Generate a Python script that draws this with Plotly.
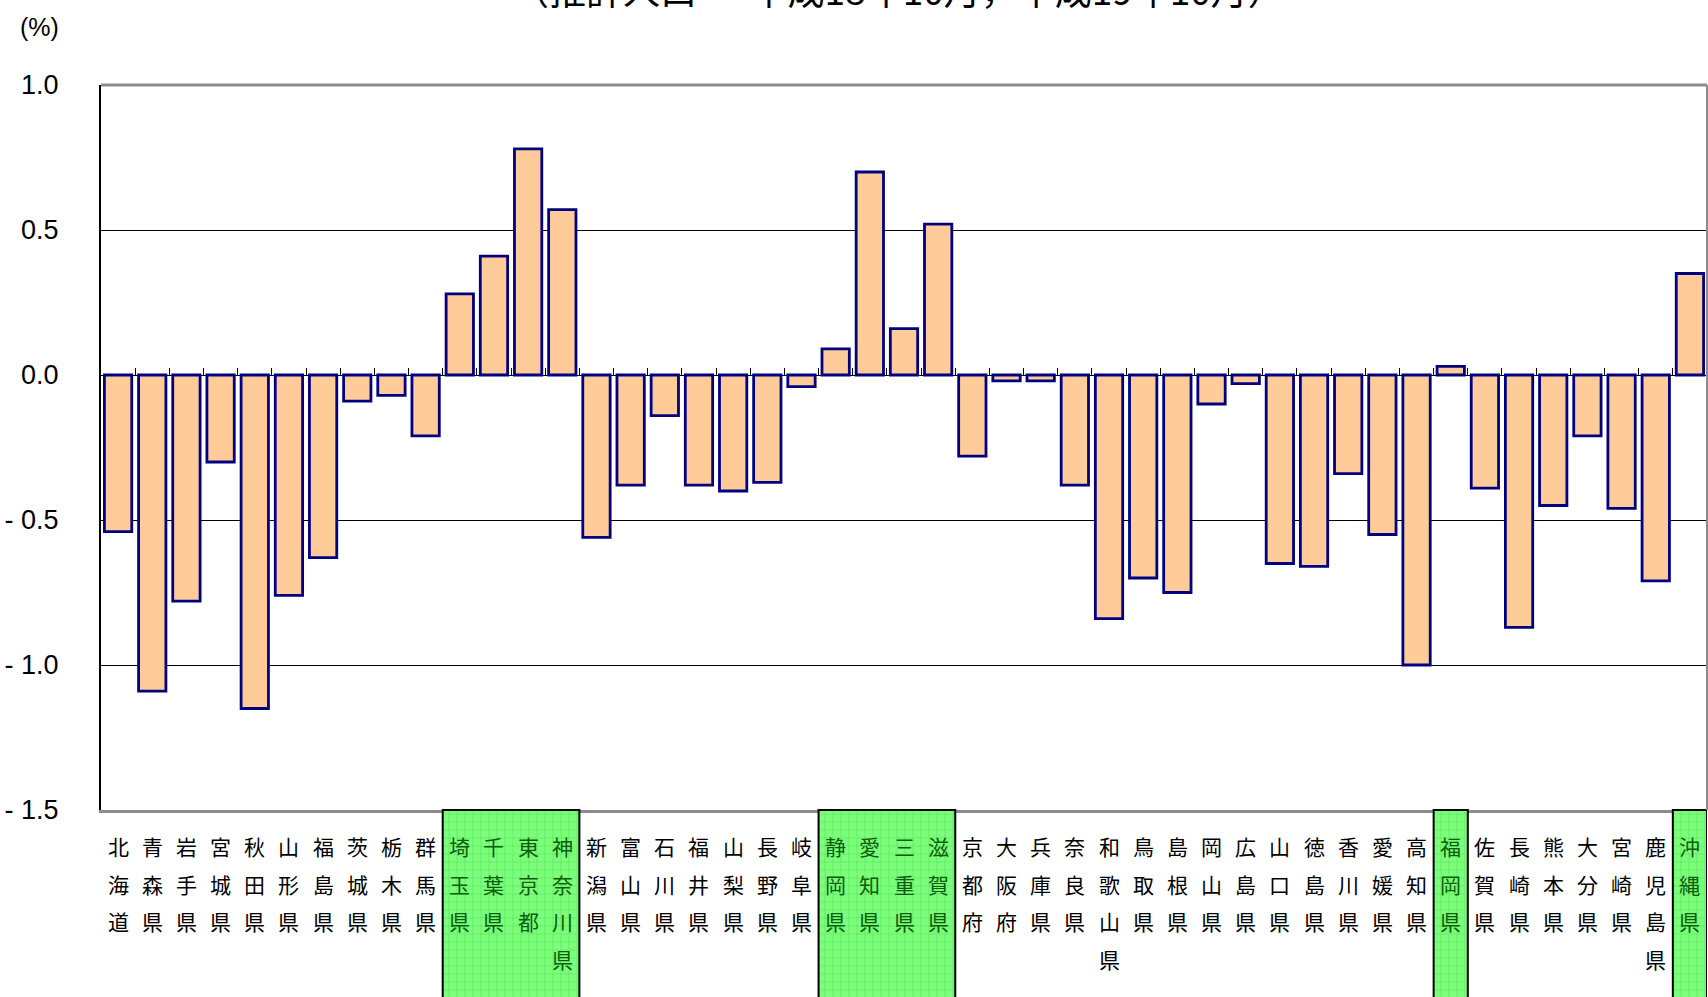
import plotly.graph_objects as go

# ---------------- data ----------------
prefectures = [
    "北海道", "青森県", "岩手県", "宮城県", "秋田県", "山形県", "福島県", "茨城県", "栃木県", "群馬県",
    "埼玉県", "千葉県", "東京都", "神奈川県", "新潟県", "富山県", "石川県", "福井県", "山梨県", "長野県",
    "岐阜県", "静岡県", "愛知県", "三重県", "滋賀県", "京都府", "大阪府", "兵庫県", "奈良県", "和歌山県",
    "鳥取県", "島根県", "岡山県", "広島県", "山口県", "徳島県", "香川県", "愛媛県", "高知県", "福岡県",
    "佐賀県", "長崎県", "熊本県", "大分県", "宮崎県", "鹿児島県", "沖縄県",
]
change_pct = [
    -0.54, -1.09, -0.78, -0.30, -1.15, -0.76, -0.63, -0.09, -0.07, -0.21,
    0.28, 0.41, 0.78, 0.57, -0.56, -0.38, -0.14, -0.38, -0.40, -0.37,
    -0.04, 0.09, 0.70, 0.16, 0.52, -0.28, -0.02, -0.02, -0.38, -0.84,
    -0.70, -0.75, -0.10, -0.03, -0.65, -0.66, -0.34, -0.55, -1.00, 0.03,
    -0.39, -0.87, -0.45, -0.21, -0.46, -0.71, 0.35,
]
highlight_groups = [
    ["埼玉県", "千葉県", "東京都", "神奈川県"],
    ["静岡県", "愛知県", "三重県", "滋賀県"],
    ["福岡県"],
    ["沖縄県"],
]
y_tick_values = [1.0, 0.5, 0.0, -0.5, -1.0, -1.5]
y_tick_labels = ["1.0", "0.5", "0.0", "- 0.5", "- 1.0", "- 1.5"]
title_text = "（推計人口 － 平成18年10月，平成19年10月）"
unit_label = "(%)"

# ---------------- layout constants ----------------
W, H = 1708, 997
ML, MR, MT, MB = 101, 1, 85, 0
plot_h = H - MT - MB
axis_px = 810                      # pixel row of the category axis
d0 = (H - MB - axis_px) / plot_h   # bottom of main y domain
y_min, y_max = -1.5, 1.0
zero_pos = d0 + (0 - y_min) / (y_max - y_min) * (1 - d0)

idx = {p: i for i, p in enumerate(prefectures)}
highlighted = {p for g in highlight_groups for p in g}

JP_FONT = "Noto Sans CJK JP, Noto Sans CJK SC, sans-serif"
NUM_FONT = "Liberation Sans, Arial, sans-serif"

fig = go.Figure()

# highlight boxes (pattern fill) below the axis
fig.add_trace(go.Bar(
    x=[sum(idx[p] for p in g) / len(g) for g in highlight_groups],
    y=[1.5] * len(highlight_groups),
    width=[len(g) for g in highlight_groups],
    base=-0.5,
    xaxis="x", yaxis="y2",
    marker=dict(
        color="#7dff7d",
        line=dict(width=0),
        pattern=dict(shape="+", fgcolor="#3ccf3c", bgcolor="#7dff7d", size=8, solidity=0.18),
    ),
    hoverinfo="skip", showlegend=False,
))

# main bars
fig.add_trace(go.Bar(
    x=list(range(len(prefectures))),
    y=change_pct,
    xaxis="x", yaxis="y",
    marker=dict(color="#FFCC99", line=dict(color="#000080", width=2.8)),
    customdata=prefectures,
    hovertemplate="%{customdata}: %{y:.2f}%<extra></extra>",
    showlegend=False,
))

# invisible trace to carry the zero-line tick axis
fig.add_trace(go.Scatter(
    x=[0], y=[0], xaxis="x2", yaxis="y", mode="markers",
    marker=dict(opacity=0), hoverinfo="skip", showlegend=False,
))

# category labels, stacked vertically character by character
annotations = []
for i, name in enumerate(prefectures):
    col = "#0b5e0b" if name in highlighted else "#000000"
    for j, ch in enumerate(name):
        annotations.append(dict(
            x=i, xref="x", y=d0, yref="paper",
            yanchor="middle", xanchor="center",
            yshift=-(36 + 37.6 * j),
            text=ch, showarrow=False,
            font=dict(family=JP_FONT, size=21, color=col),
        ))

# title (partly cut off at top of page) and unit label
annotations.append(dict(
    x=(898 - ML) / (W - ML - MR), xref="paper",
    y=(H - MB + 11) / plot_h, yref="paper",
    xanchor="center", yanchor="middle",
    text=title_text, showarrow=False,
    font=dict(family=JP_FONT, size=37, color="#000000"),
))
annotations.append(dict(
    x=(39 - ML) / (W - ML - MR), xref="paper",
    y=(H - MB - 27) / plot_h, yref="paper",
    xanchor="center", yanchor="middle",
    text=unit_label, showarrow=False,
    font=dict(family=NUM_FONT, size=25, color="#000000"),
))

shapes = []
# box outlines around highlighted groups
for g in highlight_groups:
    ids = [idx[p] for p in g]
    shapes.append(dict(
        type="rect", xref="x", yref="paper",
        x0=min(ids) - 0.5, x1=max(ids) + 0.5, y0=-0.1, y1=d0,
        line=dict(color="#000000", width=2), fillcolor="rgba(0,0,0,0)", layer="above",
    ))
# plot-area top and right borders (grey)
shapes.append(dict(type="line", xref="paper", yref="paper", x0=0, x1=1, y0=1, y1=1,
                   line=dict(color="#8c8c8c", width=3), layer="above"))
shapes.append(dict(type="line", xref="paper", yref="paper", x0=1, x1=1, y0=d0, y1=1,
                   line=dict(color="#8c8c8c", width=2), layer="above"))

fig.update_layout(
    width=W, height=H,
    margin=dict(l=ML, r=MR, t=MT, b=MB, pad=0, autoexpand=False),
    paper_bgcolor="white", plot_bgcolor="white",
    bargap=0.2,
    showlegend=False,
    xaxis=dict(
        range=[-0.5, len(prefectures) - 0.5], anchor="y", automargin=False,
        showticklabels=False, ticks="", showgrid=False, zeroline=False,
        showline=True, linecolor="#8c8c8c", linewidth=3,
    ),
    xaxis2=dict(
        overlaying="x", matches="x", anchor="free", position=zero_pos, automargin=False,
        tickmode="array", tickvals=[i + 0.5 for i in range(len(prefectures) - 1)],
        ticks="inside", ticklen=7, tickwidth=1, tickcolor="#000000",
        showticklabels=False, showgrid=False, zeroline=False, showline=False,
    ),
    yaxis=dict(
        domain=[d0, 1], range=[y_min, y_max], automargin=False,
        tickmode="array", tickvals=y_tick_values, ticktext=y_tick_labels,
        ticks="", ticklabelstandoff=35,
        tickfont=dict(family=NUM_FONT, size=27, color="#000000"),
        showgrid=True, gridcolor="#000000", gridwidth=1,
        zeroline=True, zerolinecolor="#000000", zerolinewidth=1,
        showline=True, linecolor="#000000", linewidth=2,
    ),
    yaxis2=dict(domain=[0, d0], range=[0, 1], visible=False, anchor="x", automargin=False),
    annotations=annotations,
    shapes=shapes,
)

fig.write_html(
    "out.html",
    config={"displayModeBar": False},
    post_script="document.body.style.margin='0';document.body.style.overflow='hidden';",
)
